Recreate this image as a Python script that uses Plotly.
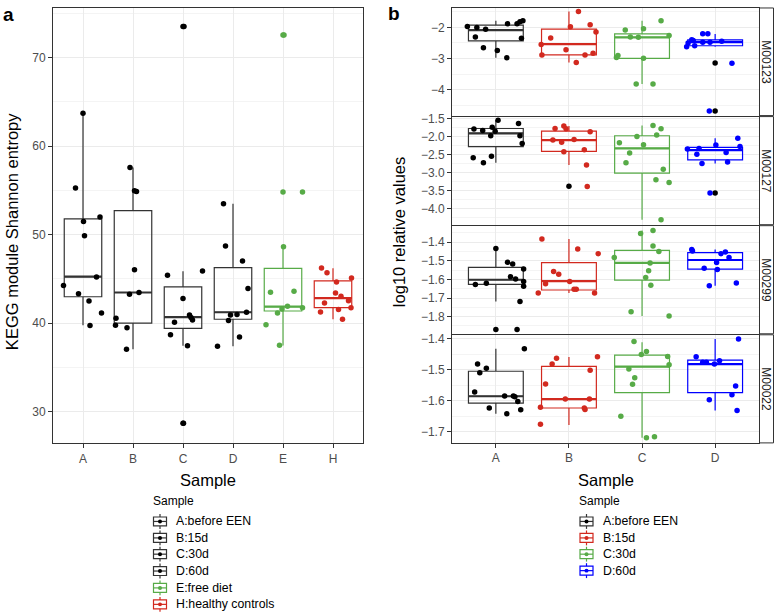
import plotly.graph_objects as go

W, H = 774, 612
FONT = "Liberation Sans"

# ---------------- Panel a : KEGG module Shannon entropy ----------------
a_groups = ["A", "B", "C", "D", "E", "H"]
a_legend = ["A:before EEN", "B:15d", "C:30d", "D:60d", "E:free diet", "H:healthy controls"]
a_q1 = [42.97, 39.99, 39.39, 40.43, 41.36, 41.73]
a_med = [45.24, 43.45, 40.66, 41.22, 41.85, 42.82]
a_q3 = [51.77, 52.70, 44.08, 46.25, 46.17, 44.76]
a_lo = [39.75, 37.04, 37.42, 37.38, 37.47, 40.43]
a_hi = [63.70, 57.57, 45.86, 53.48, 48.63, 46.20]
a_outliers = {"C": [73.5, 28.69], "E": [72.54, 54.82]}
a_values = {
    "A": [55.27, 51.47, 51.99, 49.87, 63.70, 44.24, 43.30, 45.20, 42.50, 41.14, 39.72],
    "B": [57.58, 54.94, 54.86, 46.03, 43.26, 43.45, 40.54, 39.76, 39.46, 37.04],
    "C": [73.5, 45.39, 45.88, 42.78, 40.10, 40.92, 40.62, 40.35, 38.68, 37.42, 28.69],
    "D": [53.48, 48.71, 47.00, 43.90, 40.92, 40.96, 41.22, 40.28, 38.42, 37.38],
    "E": [72.54, 54.82, 48.63, 43.49, 43.60, 41.14, 41.59, 41.89, 41.74, 39.80, 37.49],
    "H": [46.21, 45.69, 45.10, 44.65, 43.38, 43.04, 42.26, 42.52, 41.74, 41.52, 41.25, 40.43],
}
# horizontal jitter (category units)
a_jitter = {
    "A": [-0.15, 0.01, 0.34, 0.03, 0.0, -0.39, -0.09, 0.27, 0.12, 0.37, 0.14],
    "B": [-0.06, 0.03, 0.07, 0.03, -0.07, 0.12, -0.34, -0.35, -0.12, -0.13],
    "C": [0.02, -0.31, 0.39, 0.0, -0.17, 0.13, 0.16, 0.19, -0.25, 0.09, 0.01],
    "D": [-0.19, -0.15, 0.19, 0.30, -0.05, 0.08, 0.27, -0.09, 0.13, -0.31],
    "E": [0.02, 0.39, 0.01, -0.25, 0.22, -0.11, -0.02, 0.09, 0.39, -0.34, -0.07],
    "H": [-0.23, -0.12, 0.37, 0.07, 0.05, 0.16, -0.17, 0.31, 0.36, 0.11, -0.25, 0.19],
}

# ---------------- Panel b : log10 relative values ----------------
b_groups = ["A", "B", "C", "D"]
b_legend = ["A:before EEN", "B:15d", "C:30d", "D:60d"]
b_modules = ["M00123", "M00127", "M00299", "M00022"]
b_q1 = {
    "M00123": [-2.434, -2.88, -2.995, -2.59],
    "M00127": [-2.28, -2.41, -3.016, -2.65],
    "M00299": [-1.627, -1.657, -1.604, -1.545],
    "M00022": [-1.608, -1.624, -1.574, -1.574],
}
b_med = {
    "M00123": [-2.085, -2.54, -2.32, -2.475],
    "M00127": [-1.914, -2.098, -2.327, -2.38],
    "M00299": [-1.602, -1.609, -1.512, -1.496],
    "M00022": [-1.586, -1.595, -1.49, -1.482],
}
b_q3 = {
    "M00123": [-1.926, -2.053, -2.21, -2.40],
    "M00127": [-1.776, -1.85, -1.978, -2.30],
    "M00299": [-1.536, -1.51, -1.444, -1.457],
    "M00022": [-1.505, -1.489, -1.453, -1.469],
}
b_lo = {
    "M00123": [-2.975, -3.13, -3.82, -2.625],
    "M00127": [-2.73, -2.79, -4.31, -2.75],
    "M00299": [-1.719, -1.673, -1.797, -1.634],
    "M00022": [-1.643, -1.679, -1.72, -1.632],
}
b_hi = {
    "M00123": [-1.785, -1.49, -1.785, -2.21],
    "M00127": [-1.55, -1.71, -1.69, -2.05],
    "M00299": [-1.435, -1.384, -1.338, -1.44],
    "M00022": [-1.432, -1.459, -1.411, -1.401],
}
b_outliers = {
    "M00123": [[], [], [], [-3.14, -4.69]],
    "M00127": [[], [-3.385], [], [-3.57]],
    "M00299": [[-1.869], [], [], []],
    "M00022": [[], [], [], []],
}
b_values = {
    "M00123": [
        [-1.97, -2.0, -2.06, -2.31, -2.65, -2.74, -2.975, -1.88, -1.88, -1.82, -1.785, -2.35],
        [-1.49, -1.98, -1.915, -2.34, -2.55, -2.15, -2.72, -2.89, -2.89, -2.83, -3.13],
        [-1.785, -2.085, -2.04, -2.31, -2.32, -2.26, -2.9, -2.97, -2.995, -3.82, -3.82],
        [-2.625, -2.5, -2.4, -2.59, -2.42, -2.2, -2.2, -2.475, -2.475, -2.445, -3.15, -4.69],
    ],
    "M00127": [
        [-1.55, -1.64, -1.79, -1.83, -1.74, -1.85, -1.98, -1.98, -2.19, -2.59, -2.55, -2.73],
        [-1.776, -1.71, -1.785, -1.87, -2.098, -2.16, -2.08, -2.42, -2.37, -2.79, -3.39],
        [-1.69, -1.784, -1.996, -1.96, -2.17, -2.225, -2.455, -2.73, -2.91, -3.2, -3.28, -4.31],
        [-2.05, -2.235, -2.28, -2.345, -2.335, -2.49, -2.44, -2.75, -2.71, -3.57],
    ],
    "M00299": [
        [-1.435, -1.508, -1.517, -1.545, -1.586, -1.598, -1.612, -1.627, -1.621, -1.637, -1.719, -1.869],
        [-1.384, -1.437, -1.462, -1.558, -1.573, -1.623, -1.612, -1.673, -1.653, -1.653, -1.673],
        [-1.338, -1.354, -1.421, -1.45, -1.483, -1.512, -1.554, -1.59, -1.632, -1.774, -1.797],
        [-1.44, -1.448, -1.462, -1.453, -1.483, -1.51, -1.54, -1.547, -1.634, -1.62],
    ],
    "M00022": [
        [-1.432, -1.482, -1.495, -1.51, -1.572, -1.585, -1.585, -1.588, -1.603, -1.624, -1.63, -1.643],
        [-1.463, -1.482, -1.458, -1.502, -1.546, -1.622, -1.595, -1.624, -1.595, -1.629, -1.677],
        [-1.409, -1.441, -1.451, -1.457, -1.484, -1.498, -1.526, -1.547, -1.651, -1.72, -1.717],
        [-1.401, -1.458, -1.476, -1.476, -1.482, -1.471, -1.553, -1.597, -1.581, -1.632],
    ],
}
b_jitter = {
    "M00123": [
        [-0.39, -0.26, -0.14, -0.28, -0.17, 0.02, 0.15, 0.16, 0.29, 0.33, 0.37, 0.35],
        [0.13, 0.02, 0.29, -0.25, -0.38, 0.37, -0.04, -0.37, 0.22, 0.33, 0.10],
        [0.26, -0.23, 0.02, -0.16, -0.05, 0.37, -0.33, -0.35, 0.02, -0.08, 0.15],
        [-0.39, -0.37, -0.32, -0.28, -0.30, -0.17, -0.10, -0.17, -0.07, 0.09, 0.23, -0.08],
    ],
    "M00127": [
        [0.03, 0.31, -0.30, -0.18, -0.05, -0.01, -0.07, 0.33, 0.36, -0.31, -0.06, -0.17],
        [-0.19, -0.07, -0.04, 0.29, -0.22, -0.10, 0.07, -0.07, 0.21, 0.24, 0.25],
        [0.15, 0.26, -0.07, 0.20, -0.31, 0.02, -0.17, -0.22, 0.29, 0.19, 0.37, 0.26],
        [0.31, 0.01, 0.34, -0.38, -0.22, -0.25, 0.15, -0.18, 0.17, -0.07],
    ],
    "M00299": [
        [0.0, 0.16, 0.23, 0.38, 0.20, 0.27, 0.38, -0.28, -0.13, 0.38, 0.33, 0.29],
        [-0.37, 0.12, 0.40, -0.21, -0.14, -0.32, 0.01, -0.42, 0.10, 0.07, 0.35],
        [0.15, -0.02, 0.15, 0.23, -0.38, 0.11, 0.09, 0.05, 0.12, -0.15, 0.37],
        [-0.32, -0.31, 0.08, 0.14, 0.19, 0.02, -0.15, 0.03, -0.08, 0.29],
    ],
    "M00022": [
        [0.39, -0.25, -0.13, -0.22, -0.29, 0.12, 0.24, 0.26, 0.30, -0.09, 0.34, 0.15],
        [-0.17, -0.23, 0.39, 0.29, -0.32, -0.39, -0.05, 0.21, 0.28, 0.22, -0.39],
        [-0.11, 0.06, -0.01, 0.35, 0.37, -0.18, -0.10, -0.13, -0.29, 0.06, 0.17],
        [0.32, -0.26, -0.17, -0.12, -0.01, 0.06, 0.28, -0.08, 0.23, 0.30],
    ],
}

# ---------------- styling ----------------
BLACK_LINE = "#333333"
RED = "#d2291f"
GREEN = "#57ab47"
BLUE = "#0000ff"
a_line_colors = [BLACK_LINE, BLACK_LINE, BLACK_LINE, BLACK_LINE, GREEN, RED]
a_point_colors = ["#000000", "#000000", "#000000", "#000000", GREEN, RED]
a_outlier_colors = {"C": "#000000", "E": GREEN}
b_line_colors = [BLACK_LINE, RED, GREEN, BLUE]
b_point_colors = ["#000000", RED, GREEN, BLUE]

GRID = "#ebebeb"
MINOR = "#f4f4f4"
TICKFONT = dict(family=FONT, size=12, color="#4d4d4d")
BOX_W = 0.75


def fx(p):
    return p / W


def fy(p):
    return 1 - p / H


fig = go.Figure()


def add_box(i, q1, med, q3, lo, hi, color, xa, ya):
    fig.add_trace(go.Box(
        x=[i], q1=[q1], median=[med], q3=[q3], lowerfence=[lo], upperfence=[hi],
        width=BOX_W, whiskerwidth=0, boxpoints=False,
        line=dict(color=color, width=1.2),
        fillcolor="rgba(255,255,255,0)", showlegend=False, hoverinfo="skip",
        xaxis=xa, yaxis=ya))
    # thicker median bar, as in ggplot
    fig.add_trace(go.Scatter(
        x=[i - BOX_W / 2, i + BOX_W / 2], y=[med, med], mode="lines",
        line=dict(color=color, width=2.2), showlegend=False, hoverinfo="skip",
        xaxis=xa, yaxis=ya))


# ---- panel a traces ----
for i, g in enumerate(a_groups):
    add_box(i, a_q1[i], a_med[i], a_q3[i], a_lo[i], a_hi[i], a_line_colors[i], "x", "y")
for i, g in enumerate(a_groups):
    if g in a_outliers:
        fig.add_trace(go.Scatter(
            x=[i] * len(a_outliers[g]), y=a_outliers[g], mode="markers",
            marker=dict(size=5.5, color=a_outlier_colors[g]),
            showlegend=False, hoverinfo="skip", xaxis="x", yaxis="y"))
    fig.add_trace(go.Scatter(
        x=[i + j for j in a_jitter[g]], y=a_values[g], mode="markers",
        marker=dict(size=5.5, color=a_point_colors[i]),
        showlegend=False, hoverinfo="skip", xaxis="x", yaxis="y"))

# ---- panel b traces ----
for m_i, m in enumerate(b_modules):
    xa = "x%d" % (m_i + 2)
    ya = "y%d" % (m_i + 2)
    for i, g in enumerate(b_groups):
        add_box(i, b_q1[m][i], b_med[m][i], b_q3[m][i], b_lo[m][i], b_hi[m][i],
                b_line_colors[i], xa, ya)
    for i, g in enumerate(b_groups):
        if b_outliers[m][i]:
            fig.add_trace(go.Scatter(
                x=[i] * len(b_outliers[m][i]), y=b_outliers[m][i], mode="markers",
                marker=dict(size=5.5, color="#000000"),
                showlegend=False, hoverinfo="skip", xaxis=xa, yaxis=ya))
        fig.add_trace(go.Scatter(
            x=[i + j for j in b_jitter[m][i]], y=b_values[m][i], mode="markers",
            marker=dict(size=5.5, color=b_point_colors[i]),
            showlegend=False, hoverinfo="skip", xaxis=xa, yaxis=ya))

common = dict(showline=True, mirror=True, linecolor=BLACK_LINE, linewidth=1,
              gridcolor=GRID, gridwidth=1, zeroline=False, ticks="outside",
              ticklen=4, tickcolor=BLACK_LINE, tickwidth=1, tickfont=TICKFONT)

layout = dict(
    width=W, height=H, margin=dict(l=0, r=0, t=0, b=0),
    paper_bgcolor="white", plot_bgcolor="white", boxmode="overlay",
    showlegend=False, font=dict(family=FONT),
)
layout["xaxis"] = dict(common, domain=[fx(53), fx(363)], range=[-0.6, 5.6],
                       tickvals=list(range(len(a_groups))), ticktext=a_groups, anchor="y")
layout["yaxis"] = dict(common, domain=[fy(442), fy(3)], range=[26.4, 75.6],
                       tickvals=[30, 40, 50, 60, 70], anchor="x",
                       minor=dict(dtick=5, tick0=0, showgrid=True, gridcolor=MINOR, gridwidth=1, ticks=""))

b_tops = [3, 112.5, 222.5, 332.5]
b_bots = [111.5, 221.5, 331.5, 441.5]
b_ranges = [[-4.835, -1.375], [-4.45, -1.445], [-1.892, -1.312], [-1.737, -1.387]]
b_ticks = [[-4, -3, -2], [-4.0, -3.5, -3.0, -2.5, -2.0, -1.5],
           [-1.8, -1.7, -1.6, -1.5, -1.4], [-1.7, -1.6, -1.5, -1.4]]
b_fmt = ["d", ".1f", ".1f", ".1f"]
b_minor = [0.5, 0.25, 0.05, 0.05]
for m_i, m in enumerate(b_modules):
    xk = "xaxis%d" % (m_i + 2)
    yk = "yaxis%d" % (m_i + 2)
    last = (m_i == len(b_modules) - 1)
    xd = dict(common, domain=[fx(452), fx(759)], range=[-0.6, 3.6],
              tickvals=list(range(len(b_groups))), ticktext=b_groups,
              anchor="y%d" % (m_i + 2))
    if not last:
        xd.update(ticks="", showticklabels=False)
    layout[xk] = xd
    layout[yk] = dict(common, domain=[fy(b_bots[m_i]), fy(b_tops[m_i])], range=b_ranges[m_i],
                      tickvals=b_ticks[m_i], tickformat=b_fmt[m_i], anchor="x%d" % (m_i + 2),
                      minor=dict(dtick=b_minor[m_i], tick0=0, showgrid=True,
                                 gridcolor=MINOR, gridwidth=1, ticks=""))

shapes = []
annotations = []

# strips
for m_i, m in enumerate(b_modules):
    shapes.append(dict(type="rect", xref="paper", yref="paper",
                       x0=fx(759.5), x1=fx(773.5), y0=fy(b_bots[m_i]), y1=fy(b_tops[m_i]),
                       line=dict(color=BLACK_LINE, width=1), fillcolor="rgba(0,0,0,0)",
                       layer="below"))
    annotations.append(dict(text=m, xref="paper", yref="paper",
                            x=fx(766.5), y=fy((b_tops[m_i] + b_bots[m_i]) / 2),
                            textangle=90, showarrow=False,
                            font=dict(family=FONT, size=12, color="#1a1a1a"),
                            xanchor="center", yanchor="middle"))

# panel letters
annotations.append(dict(text="<b>a</b>", xref="paper", yref="paper", x=fx(1), y=fy(10),
                        xanchor="left", yanchor="middle", showarrow=False,
                        font=dict(family=FONT, size=19, color="black")))
annotations.append(dict(text="<b>b</b>", xref="paper", yref="paper", x=fx(386), y=fy(9),
                        xanchor="left", yanchor="middle", showarrow=False,
                        font=dict(family=FONT, size=19, color="black")))

# axis titles
TITLE = dict(family=FONT, size=16.5, color="black")
annotations.append(dict(text="KEGG module Shannon entropy", xref="paper", yref="paper",
                        x=fx(12), y=fy(229), textangle=-90, showarrow=False, font=TITLE,
                        xanchor="center", yanchor="middle"))
annotations.append(dict(text="Sample", xref="paper", yref="paper", x=fx(208), y=fy(479),
                        showarrow=False, font=TITLE, xanchor="center", yanchor="middle"))
annotations.append(dict(text="log10 relative values", xref="paper", yref="paper",
                        x=fx(399), y=fy(229), textangle=-90, showarrow=False, font=TITLE,
                        xanchor="center", yanchor="middle"))
annotations.append(dict(text="Sample", xref="paper", yref="paper", x=fx(605.5), y=fy(479),
                        showarrow=False, font=TITLE, xanchor="center", yanchor="middle"))


# legends (drawn as keys + labels)
def legend_block(x_title, y_title, icon_cx, text_x, ys, labels, line_colors, dot_colors):
    annotations.append(dict(text="Sample", xref="paper", yref="paper", x=fx(x_title), y=fy(y_title),
                            showarrow=False, xanchor="left", yanchor="middle",
                            font=dict(family=FONT, size=12, color="black")))
    for yy, lab, lc, dc in zip(ys, labels, line_colors, dot_colors):
        shapes.append(dict(type="rect", xref="paper", yref="paper",
                           x0=fx(icon_cx - 6.5), x1=fx(icon_cx + 6.5),
                           y0=fy(yy + 4.5), y1=fy(yy - 4.5), line=dict(color=lc, width=1.2)))
        shapes.append(dict(type="line", xref="paper", yref="paper",
                           x0=fx(icon_cx), x1=fx(icon_cx), y0=fy(yy - 7.5), y1=fy(yy - 4.5),
                           line=dict(color=lc, width=1.2)))
        shapes.append(dict(type="line", xref="paper", yref="paper",
                           x0=fx(icon_cx), x1=fx(icon_cx), y0=fy(yy + 4.5), y1=fy(yy + 7.5),
                           line=dict(color=lc, width=1.2)))
        shapes.append(dict(type="line", xref="paper", yref="paper",
                           x0=fx(icon_cx - 6.5), x1=fx(icon_cx + 6.5), y0=fy(yy), y1=fy(yy),
                           line=dict(color=lc, width=1.2)))
        shapes.append(dict(type="circle", xref="paper", yref="paper",
                           x0=fx(icon_cx - 2), x1=fx(icon_cx + 2), y0=fy(yy + 2), y1=fy(yy - 2),
                           fillcolor=dc, line=dict(color=dc, width=0)))
        annotations.append(dict(text=lab, xref="paper", yref="paper", x=fx(text_x), y=fy(yy),
                                showarrow=False, xanchor="left", yanchor="middle",
                                font=dict(family=FONT, size=12.3, color="black")))


legend_block(150.5, 500, 160, 173.5, [520.7, 537.3, 553.7, 570.7, 587.7, 604.3],
             a_legend, a_line_colors, a_point_colors)
legend_block(576.5, 500, 586.5, 600.5, [520.7, 537.3, 553.7, 570.3],
             b_legend, b_line_colors, b_point_colors)

layout["shapes"] = shapes
layout["annotations"] = annotations
fig.update_layout(**layout)
fig.write_html(
    "out.html",
    config={"displayModeBar": False},
    post_script="document.body.style.margin='0px';document.body.style.padding='0px';"
                "document.body.style.overflow='hidden';",
)
